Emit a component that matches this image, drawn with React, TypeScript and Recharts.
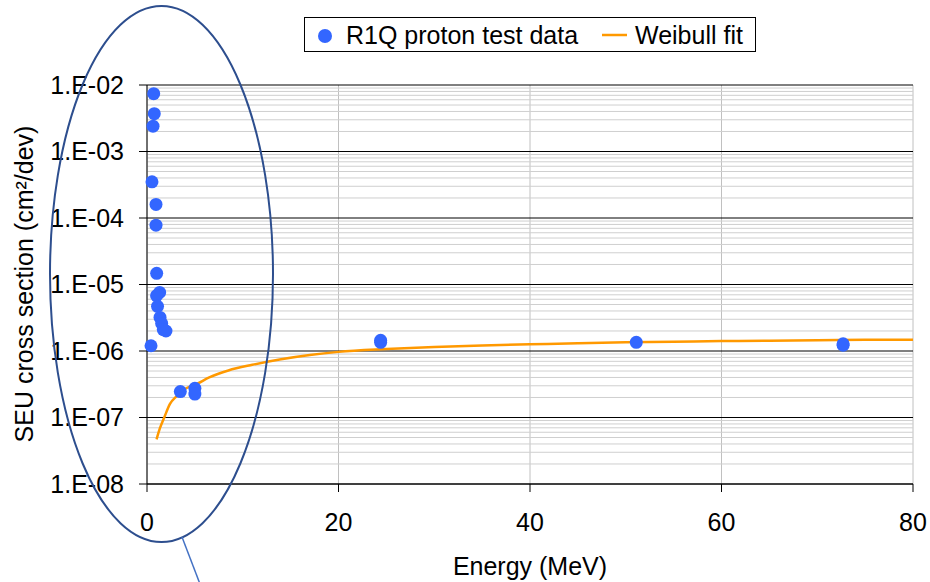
import {
  ComposedChart,
  Scatter,
  Line,
  XAxis,
  YAxis,
  CartesianGrid,
  ReferenceLine,
  Legend,
  Label
} from "recharts"

// proton test measurements: energy (MeV) and SEU cross section (cm2/dev)
const testEnergy = [0.7, 0.76, 0.63, 0.52, 0.94, 0.94, 1.01, 1.32, 1.0, 1.1, 1.36, 1.53, 1.7, 1.98, 0.42, 3.48, 5.0, 5.0, 24.4, 24.4, 51.1, 72.7, 72.7]
const testSigma = [7.4e-3, 3.7e-3, 2.4e-3, 3.5e-4, 1.6e-4, 7.8e-5, 1.47e-5, 7.6e-6, 6.8e-6, 4.7e-6, 3.2e-6, 2.6e-6, 2.1e-6, 2.0e-6, 1.2e-6, 2.45e-7, 2.75e-7, 2.25e-7, 1.45e-6, 1.35e-6, 1.35e-6, 1.28e-6, 1.22e-6]

// weibull fit curve
const fitEnergy = [1.0, 1.35, 1.8, 2.4, 3.1, 4.0, 5.2, 6.5, 8.5, 11, 14, 17, 20, 25, 30, 35, 40, 45, 50, 55, 60, 65, 70, 75, 80]
const fitSigma = [4.7e-8, 6.9e-8, 1.0e-7, 1.6e-7, 2.1e-7, 2.7e-7, 3.2e-7, 4.0e-7, 5.1e-7, 6.2e-7, 7.5e-7, 8.7e-7, 9.7e-7, 1.07e-6, 1.15e-6, 1.21e-6, 1.26e-6, 1.31e-6, 1.35e-6, 1.38e-6, 1.41e-6, 1.43e-6, 1.45e-6, 1.47e-6, 1.48e-6]

const xTicks = [0, 20, 40, 60, 80]
const yTicks = [1e-8, 1e-7, 1e-6, 1e-5, 1e-4, 1e-3, 1e-2]
const minorSteps = [2, 3, 4, 5, 6, 7, 8, 9]

const points = testEnergy.map((x, i) => ({ x, y: testSigma[i] }))
const curve = fitEnergy.map((x, i) => ({ x, y: fitSigma[i] }))
const minorTicks = yTicks.slice(0, -1).flatMap(d => minorSteps.map(m => m * d))

const FONT = "'Liberation Sans', Arial, sans-serif"
const DOT = "#3366FF"
const ORANGE = "#FF9900"

const fmtExp = (v: number) => {
  const e = Math.round(Math.log10(v))
  return "1.E" + (e < 0 ? "-" : "+") + String(Math.abs(e)).padStart(2, "0")
}

function LegendBox() {
  return (
    <svg width={452} height={36} style={{ display: "block" }}>
      <rect x={0.5} y={0.5} width={451} height={34} fill="#fff" stroke="#000" />
      <circle cx={21} cy={19} r={7} fill={DOT} />
      <text x={42} y={27} fontSize={25} fontFamily={FONT} fill="#000">R1Q proton test data</text>
      <line x1={298} x2={323} y1={18} y2={18} stroke={ORANGE} strokeWidth={2.5} />
      <text x={331} y={27} fontSize={25} fontFamily={FONT} fill="#000">Weibull fit</text>
    </svg>
  )
}

export default function App() {
  const tickStyle = { fontSize: 25, fill: "#000", fontFamily: FONT }

  return (
    <div style={{ position: "absolute", left: 0, top: 0, width: 930, height: 582, background: "#fff" }}>
      <ComposedChart
        width={930}
        height={582}
        margin={{ top: 85, right: 17, bottom: 68, left: 0 }}
      >
        <CartesianGrid horizontal={false} stroke="#c0c0c0" />

        {minorTicks.map(v => (
          <ReferenceLine key={v} y={v} stroke="#cfcfcf" strokeWidth={1} />
        ))}

        <CartesianGrid vertical={false} stroke="#000" />

        <XAxis
          dataKey="x"
          type="number"
          domain={[0, 80]}
          ticks={xTicks}
          height={30}
          tickSize={8}
          tickMargin={21}
          tick={tickStyle}
          stroke="#000"
        >
          <Label
            content={({ viewBox }: any) => (
              <text
                x={viewBox.x + viewBox.width / 2}
                y={575}
                textAnchor="middle"
                fontSize={25}
                fontFamily={FONT}
                fill="#000"
              >
                Energy (MeV)
              </text>
            )}
          />
        </XAxis>

        <YAxis
          dataKey="y"
          type="number"
          scale="log"
          domain={[1e-8, 1e-2]}
          allowDataOverflow
          ticks={yTicks}
          tickFormatter={fmtExp}
          width={147}
          tickSize={8}
          tickMargin={15}
          tick={tickStyle}
          stroke="#000"
        >
          <Label
            content={() => (
              <text
                x={33}
                y={284}
                transform="rotate(-90 33 284)"
                textAnchor="middle"
                fontSize={25}
                fontFamily={FONT}
                fill="#000"
              >
                SEU cross section (cm²/dev)
              </text>
            )}
          />
        </YAxis>

        <Legend
          layout="horizontal"
          verticalAlign="middle"
          align="center"
          wrapperStyle={{ top: 17, left: 304, width: 452, height: 36 }}
          content={() => <LegendBox />}
        />

        <Line
          data={curve}
          dataKey="y"
          name="Weibull fit"
          type="monotone"
          stroke={ORANGE}
          strokeWidth={2.5}
          dot={false}
          activeDot={false}
          isAnimationActive={false}
        />

        <Scatter
          data={points}
          dataKey="y"
          name="R1Q proton test data"
          fill={DOT}
          shape={(p: any) => <circle cx={p.cx} cy={p.cy} r={6.5} fill={DOT} />}
          isAnimationActive={false}
        />
      </ComposedChart>

      {/* hand-drawn callout around the low-energy points */}
      <svg
        width={930}
        height={582}
        style={{ position: "absolute", left: 0, top: 0, pointerEvents: "none" }}
      >
        <ellipse cx={161.5} cy={274} rx={111.5} ry={268} fill="none" stroke="#2D4E8E" strokeWidth={2} />
        <line x1={182} y1={537} x2={200} y2={584} stroke="#4472C4" strokeWidth={1.5} />
      </svg>
    </div>
  )
}
